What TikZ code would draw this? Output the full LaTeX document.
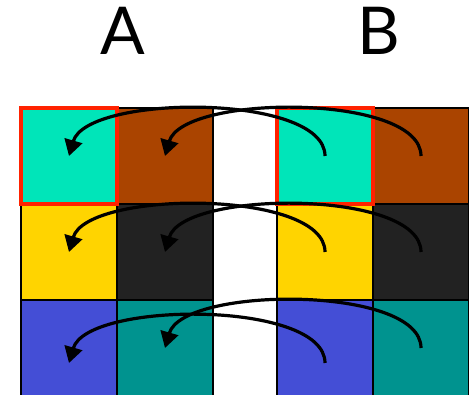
\documentclass[tikz,border=0pt]{standalone}
\usepackage{fontspec}
\setmainfont{Lato}
\usetikzlibrary{arrows.meta}
\definecolor{cellcyan}{RGB}{0,229,185}
\definecolor{cellbrown}{RGB}{170,68,0}
\definecolor{cellyellow}{RGB}{255,212,0}
\definecolor{celldark}{RGB}{34,34,34}
\definecolor{cellblue}{RGB}{68,78,214}
\definecolor{cellteal}{RGB}{0,147,143}
\definecolor{markred}{RGB}{255,34,0}
\begin{document}
\begin{tikzpicture}[x=1pt,y=1pt,
  cell/.style={draw=black,line width=2.8pt,minimum width=96pt,minimum height=96pt,
               inner sep=0pt,outer sep=0pt},
  lastrow/.style={minimum height=104pt},
  markbox/.style={draw=markred,line width=4.5pt},
  flow/.style={line width=3.2pt,-{Triangle[length=16pt,width=18pt]}},
  headtext/.style={font=\fontsize{66}{66}\selectfont,anchor=base,inner sep=0pt}]
\useasboundingbox (0,0) rectangle (469,-395);

% column headings
\node[headtext] (ta) at (123,-55) {A};
\node[headtext] (tb) at (378.5,-55) {B};

% grid A
\node[cell,fill=cellcyan]          (a11) at (69,-156) {};
\node[cell,fill=cellbrown]         (a12) at (165,-156) {};
\node[cell,fill=cellyellow]        (a21) at (69,-252) {};
\node[cell,fill=celldark]          (a22) at (165,-252) {};
\node[cell,lastrow,fill=cellblue]  (a31) at (69,-352) {};
\node[cell,lastrow,fill=cellteal]  (a32) at (165,-352) {};

% grid B
\node[cell,fill=cellcyan]          (b11) at (325,-156) {};
\node[cell,fill=cellbrown]         (b12) at (421,-156) {};
\node[cell,fill=cellyellow]        (b21) at (325,-252) {};
\node[cell,fill=celldark]          (b22) at (421,-252) {};
\node[cell,lastrow,fill=cellblue]  (b31) at (325,-352) {};
\node[cell,lastrow,fill=cellteal]  (b32) at (421,-352) {};

% highlighted cells
\draw[markbox] (a11.north west) rectangle (a11.south east);
\draw[markbox] (b11.north west) rectangle (b11.south east);

% copy arrows from B to A
\draw[flow] (b11.center) .. controls +(0,63) and +(18,62) .. (a11.center);
\draw[flow] (b12.center) .. controls +(0,63) and +(18,62) .. (a12.center);
\draw[flow] (b21.center) .. controls +(0,63) and +(18,62) .. (a21.center);
\draw[flow] (b22.center) .. controls +(0,63) and +(18,62) .. (a22.center);
\draw[flow] ([yshift=-11pt]b31.center) .. controls +(0,63) and +(18,62) .. ([yshift=-11pt]a31.center);
\draw[flow] ([yshift=4pt]b32.center) .. controls +(0,63) and +(18,62) .. ([yshift=4pt]a32.center);
\end{tikzpicture}
\end{document}
